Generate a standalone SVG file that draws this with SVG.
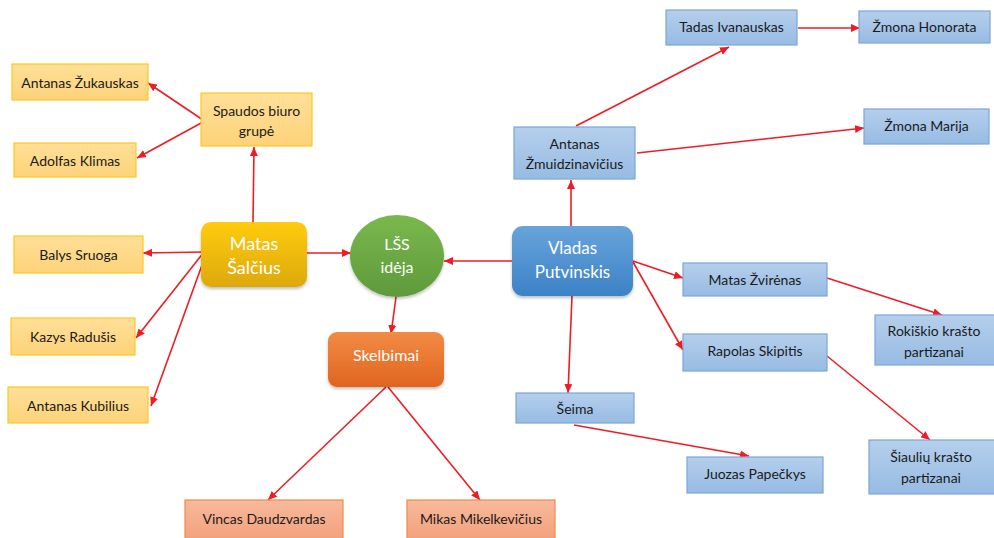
<svg xmlns="http://www.w3.org/2000/svg" width="994" height="538" viewBox="0 0 994 538">
<style>
.lbl{font-family:Lato,"Liberation Sans",sans-serif;font-size:14px;fill:#1a1a1a;text-anchor:middle;dominant-baseline:central}
.wl{font-family:Lato,"Liberation Sans",sans-serif;fill:#ffffff;text-anchor:middle;dominant-baseline:central}
.ly{fill:url(#gy);stroke:#FFC71F;stroke-width:1.2}
.lb{fill:url(#gb);stroke:#7AA7D8;stroke-width:1.2}
.ls{fill:url(#gs);stroke:#F08A4B;stroke-width:1.2}
.cn{stroke:#EE1C24;stroke-width:1.6;fill:none;marker-end:url(#ah)}
</style>
<defs>
<linearGradient id="gy" x1="0" y1="0" x2="0" y2="1"><stop offset="0" stop-color="#FFDF98"/><stop offset="1" stop-color="#FDD37A"/></linearGradient>
<linearGradient id="gb" x1="0" y1="0" x2="0" y2="1"><stop offset="0" stop-color="#B5CFEC"/><stop offset="1" stop-color="#97BBE3"/></linearGradient>
<linearGradient id="gs" x1="0" y1="0" x2="0" y2="1"><stop offset="0" stop-color="#F7BA9C"/><stop offset="1" stop-color="#F3A07B"/></linearGradient>
<linearGradient id="gg" x1="0" y1="0" x2="0" y2="1"><stop offset="0" stop-color="#FFCB10"/><stop offset="1" stop-color="#DDA90D"/></linearGradient>
<linearGradient id="go" x1="0" y1="0" x2="0" y2="1"><stop offset="0" stop-color="#F28B45"/><stop offset="1" stop-color="#E0651E"/></linearGradient>
<linearGradient id="gn" x1="0" y1="0" x2="0" y2="1"><stop offset="0" stop-color="#7AB84D"/><stop offset="1" stop-color="#5E9A3B"/></linearGradient>
<linearGradient id="gd" x1="0" y1="0" x2="0" y2="1"><stop offset="0" stop-color="#68A4DB"/><stop offset="1" stop-color="#3C82C6"/></linearGradient>
<filter id="sh" x="-20%" y="-20%" width="140%" height="150%"><feDropShadow dx="0" dy="2" stdDeviation="1.5" flood-color="#000" flood-opacity="0.25"/></filter>
<marker id="ah" markerUnits="userSpaceOnUse" markerWidth="9" markerHeight="8" refX="9" refY="4" orient="auto"><path d="M0,0 L9,4 L0,8 z" fill="#EE1C24"/></marker>
</defs>

<g id="connectors">
<line class="cn" x1="203" y1="120" x2="148" y2="83"/>
<line class="cn" x1="203" y1="122" x2="137" y2="158"/>
<line class="cn" x1="253" y1="222" x2="254" y2="147"/>
<line class="cn" x1="204" y1="252" x2="143" y2="253"/>
<line class="cn" x1="204" y1="252" x2="136" y2="338"/>
<line class="cn" x1="206" y1="254" x2="151" y2="406"/>
<line class="cn" x1="307" y1="253" x2="351" y2="253"/>
<line class="cn" x1="512" y1="261" x2="444" y2="261"/>
<line class="cn" x1="396" y1="297" x2="391" y2="334"/>
<line class="cn" x1="386" y1="387" x2="268" y2="500"/>
<line class="cn" x1="388" y1="387" x2="480" y2="500"/>
<line class="cn" x1="571" y1="226" x2="571" y2="180"/>
<line class="cn" x1="633" y1="261" x2="683" y2="278"/>
<line class="cn" x1="633" y1="262" x2="683" y2="350"/>
<line class="cn" x1="572" y1="296" x2="568" y2="393"/>
<line class="cn" x1="574" y1="425" x2="749" y2="456"/>
<line class="cn" x1="827" y1="278" x2="942" y2="315"/>
<line class="cn" x1="827" y1="356" x2="930" y2="440"/>
<line class="cn" x1="576" y1="126" x2="729" y2="47"/>
<line class="cn" x1="637" y1="153" x2="864" y2="128"/>
<line class="cn" x1="798" y1="28" x2="860" y2="28"/>
</g>

<g id="n-zukauskas"><rect class="ly" x="12" y="64" width="136" height="36"/><text class="lbl" x="80" y="82">Antanas Žukauskas</text></g>
<g id="n-spaudos"><rect class="ly" x="201" y="93" width="111" height="53"/><text class="lbl" x="256.5" y="110">Spaudos biuro</text><text class="lbl" x="256.5" y="130">grupė</text></g>
<g id="n-klimas"><rect class="ly" x="14" y="143" width="122" height="34"/><text class="lbl" x="75" y="160">Adolfas Klimas</text></g>
<g id="n-sruoga"><rect class="ly" x="14" y="236" width="129" height="37"/><text class="lbl" x="78.5" y="254">Balys Sruoga</text></g>
<g id="n-radusis"><rect class="ly" x="11" y="318" width="124" height="37"/><text class="lbl" x="73" y="336">Kazys Radušis</text></g>
<g id="n-kubilius"><rect class="ly" x="8" y="387" width="140" height="36"/><text class="lbl" x="78" y="405">Antanas Kubilius</text></g>

<g id="n-salcius"><rect x="201" y="222" width="106" height="65" rx="10" fill="url(#gg)" filter="url(#sh)"/><text class="wl" x="254" y="243" font-size="18">Matas</text><text class="wl" x="254" y="267" font-size="18">Šalčius</text></g>

<g id="n-lss"><ellipse cx="397" cy="256" rx="47" ry="41" fill="url(#gn)" filter="url(#sh)"/><text class="wl" x="397" y="243" font-size="16">LŠS</text><text class="wl" x="397" y="266" font-size="16">idėja</text></g>

<g id="n-skelbimai"><rect x="328" y="332" width="116" height="55" rx="9" fill="url(#go)" filter="url(#sh)"/><text class="wl" x="386" y="354" font-size="16">Skelbimai</text></g>
<g id="n-vincas"><rect class="ls" x="185" y="500" width="158" height="40"/><text class="lbl" x="264" y="518">Vincas Daudzvardas</text></g>
<g id="n-mikas"><rect class="ls" x="407" y="500" width="148" height="40"/><text class="lbl" x="481" y="518">Mikas Mikelkevičius</text></g>

<g id="n-vladas"><rect x="512" y="226" width="121" height="70" rx="11" fill="url(#gd)" filter="url(#sh)"/><text class="wl" x="572.5" y="247" font-size="17">Vladas</text><text class="wl" x="572.5" y="271" font-size="17">Putvinskis</text></g>

<g id="n-zmuid"><rect class="lb" x="514" y="127" width="121" height="52"/><text class="lbl" x="574.5" y="143">Antanas</text><text class="lbl" x="574.5" y="163">Žmuidzinavičius</text></g>
<g id="n-tadas"><rect class="lb" x="666" y="10" width="131" height="35"/><text class="lbl" x="731.5" y="26">Tadas Ivanauskas</text></g>
<g id="n-honorata"><rect class="lb" x="859" y="11" width="131" height="32"/><text class="lbl" x="924.5" y="26">Žmona Honorata</text></g>
<g id="n-marija"><rect class="lb" x="864" y="109" width="125" height="35"/><text class="lbl" x="926.5" y="125">Žmona Marija</text></g>
<g id="n-zvirenas"><rect class="lb" x="683" y="263" width="144" height="33"/><text class="lbl" x="755" y="279">Matas Žvirėnas</text></g>
<g id="n-skipitis"><rect class="lb" x="683" y="334" width="144" height="37"/><text class="lbl" x="755" y="350">Rapolas Skipitis</text></g>
<g id="n-rokiskio"><rect class="lb" x="875" y="315" width="121" height="50"/><text class="lbl" x="934" y="330">Rokiškio krašto</text><text class="lbl" x="934" y="351">partizanai</text></g>
<g id="n-seima"><rect class="lb" x="516" y="393" width="118" height="30"/><text class="lbl" x="575" y="408">Šeima</text></g>
<g id="n-papeckys"><rect class="lb" x="687" y="457" width="136" height="36"/><text class="lbl" x="755" y="473">Juozas Papečkys</text></g>
<g id="n-siauliu"><rect class="lb" x="869" y="440" width="127" height="54"/><text class="lbl" x="931" y="456">Šiaulių krašto</text><text class="lbl" x="931" y="477">partizanai</text></g>
</svg>
